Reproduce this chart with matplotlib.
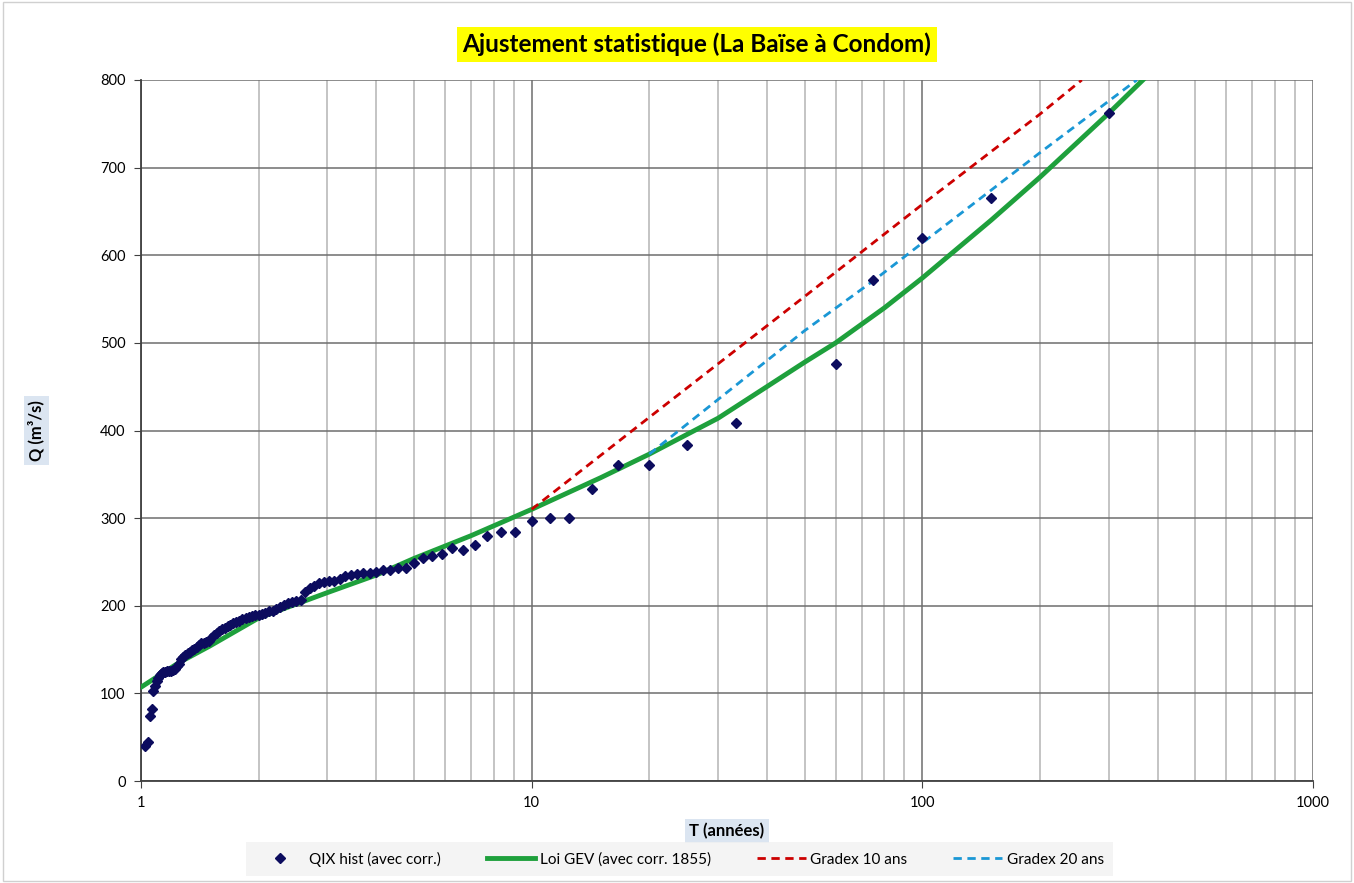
import matplotlib
matplotlib.use("Agg")
import matplotlib.pyplot as plt
from matplotlib.ticker import FixedLocator, NullFormatter
from matplotlib.patches import Rectangle

plt.rcParams['font.family'] = ['Lato', 'DejaVu Sans']

# QIX hist (avec corr.) - periode de retour (ans) et debit (m3/s)
T_obs = [1.024, 1.04, 1.054, 1.065, 1.075, 1.086, 1.097, 1.108, 1.116,
         1.1236, 1.1300, 1.1364, 1.1494, 1.1628, 1.1765, 1.1905, 1.2048, 1.2195,
         1.2346, 1.25, 1.2658, 1.2821, 1.2987, 1.3158, 1.3333, 1.3514, 1.3699,
         1.3889, 1.4085, 1.4286, 1.4493, 1.4706, 1.4925, 1.5152, 1.5385, 1.5625,
         1.5873, 1.6129, 1.6393, 1.6667, 1.6949, 1.7241, 1.7544, 1.7857, 1.8182,
         1.8519, 1.8868, 1.9231, 1.9608, 2.0, 2.0408, 2.0833, 2.1277, 2.1739,
         2.2222, 2.2727, 2.3256, 2.3810, 2.4390, 2.5, 2.5641, 2.6316, 2.7027,
         2.7778, 2.8571, 2.9412, 3.0303, 3.125, 3.2258, 3.3333, 3.4483, 3.5714,
         3.7037, 3.8462, 4.0, 4.1667, 4.3478, 4.5455, 4.7619, 5.0, 5.2632,
         5.5556, 5.8824, 6.25, 6.6667, 7.1429, 7.6923, 8.3333, 9.0909,
         10.0, 11.111, 12.5, 14.286, 16.667, 20.0, 25.0, 33.333, 60.0, 75.0,
         100.0, 150.0, 300.0]
Q_obs = [40, 45, 74, 82, 103, 108, 114, 118, 121,
         122, 123, 124, 124.5, 125, 125.5, 126, 127, 128,
         131, 134, 139, 142, 144, 146, 147.5, 149, 151,
         153, 155, 157, 158, 159, 160, 163, 167, 169,
         171, 173, 175, 176.5, 178, 180, 181.5, 183, 184.5,
         186, 187.5, 188.5, 189.5, 190, 191, 192, 193.5, 194.5,
         196, 199, 201, 203, 204.5, 206, 207, 216, 220,
         223, 225.5, 227.5, 228.5, 228, 231, 233.5, 235, 236,
         237, 237, 238, 241, 241, 243, 243, 249, 255,
         257, 259, 265.5, 264, 269, 280, 284, 284,
         297, 300.5, 300.5, 333, 361, 361, 384, 408, 476, 572,
         620, 665, 762]

# Loi GEV (avec corr. 1855)
T_gev = [1.0, 1.25, 1.5, 2, 3, 4, 5, 7, 10, 15, 20, 30, 40, 50, 60, 80, 100,
         150, 200, 300, 367]
Q_gev = [107, 135, 154, 186, 215, 235, 254, 280, 310, 346, 373, 414, 450, 478,
         500, 540, 574, 640, 689, 762, 800]

# Gradex 10 ans / 20 ans
T_g10 = [10, 20, 50, 100, 200, 256]
Q_g10 = [310, 415, 553, 658, 761, 800]
T_g20 = [20, 50, 75, 100, 200, 354]
Q_g20 = [373, 514, 571, 614, 717, 800]

fig = plt.figure(figsize=(13.54, 8.83), dpi=100)
fig.patches.append(Rectangle((0.002, 0.002), 0.996, 0.996, transform=fig.transFigure,
                             fill=False, edgecolor='#d0d0d0', linewidth=1))
ax = fig.add_axes([0.1041, 0.1155, 0.8656, 0.7939])

ax.plot(T_gev, Q_gev, color='#1ea03c', linewidth=3.5, zorder=3,
        label='Loi GEV (avec corr. 1855)')
ax.plot(T_g10, Q_g10, color='#cc0000', linewidth=2, linestyle=(0, (3, 2)), zorder=3,
        label='Gradex 10 ans')
ax.plot(T_g20, Q_g20, color='#1a97d5', linewidth=2, linestyle=(0, (3, 2)), zorder=3,
        label='Gradex 20 ans')
ax.plot(T_obs, Q_obs, linestyle='none', marker='D', markersize=5.5,
        color='#0c0c5e', zorder=4, label='QIX hist (avec corr.)')

ax.set_xscale('log')
ax.set_xlim(1, 1000)
ax.set_ylim(0, 800)
ax.set_yticks(range(0, 801, 100))
ax.xaxis.set_major_locator(FixedLocator([1, 10, 100, 1000]))
ax.set_xticklabels(['1', '10', '100', '1000'])
minor = [m * d for d in (1, 10, 100) for m in range(2, 10)]
ax.xaxis.set_minor_locator(FixedLocator(minor))
ax.xaxis.set_minor_formatter(NullFormatter())

ax.grid(which='major', axis='y', color='#6e6e6e', linewidth=1.1)
ax.grid(which='major', axis='x', color='#6e6e6e', linewidth=1.1)
ax.grid(which='minor', axis='x', color='#b4b4b4', linewidth=1.1)
ax.set_axisbelow(True)
for s in ('top', 'right'):
    ax.spines[s].set_visible(False)
for s in ('left', 'bottom'):
    ax.spines[s].set_color('#404040')
    ax.spines[s].set_linewidth(1.3)
ax.tick_params(axis='both', which='major', labelsize=10.5, length=5, color='#404040', pad=6)
ax.tick_params(axis='x', which='minor', length=0)

ax.set_xlabel('T (années)', fontsize=12, fontweight='bold', labelpad=9,
              bbox=dict(facecolor='#dbe5f1', edgecolor='none', pad=3))
ax.set_ylabel('Q (m³/s)', fontsize=12, fontweight='bold', labelpad=40,
              bbox=dict(facecolor='#dbe5f1', edgecolor='none', pad=3))

fig.text(0.5145, 0.950, 'Ajustement statistique (La Baïse à Condom)', ha='center',
         va='center', fontsize=17.5, fontweight='bold',
         bbox=dict(facecolor='#ffff00', edgecolor='none', pad=4))

handles, labels = ax.get_legend_handles_labels()
order = [3, 0, 1, 2]
leg = fig.legend([handles[i] for i in order], [labels[i] for i in order],
                 loc='center', bbox_to_anchor=(0.502, 0.0272), ncol=4, fontsize=11,
                 frameon=True, fancybox=False, handlelength=3.2, columnspacing=3.0,
                 borderpad=0.6, handletextpad=0.3)
leg.get_frame().set_facecolor('#f2f2f2')
leg.get_frame().set_edgecolor('none')

fig.savefig('out.png', dpi=100)
